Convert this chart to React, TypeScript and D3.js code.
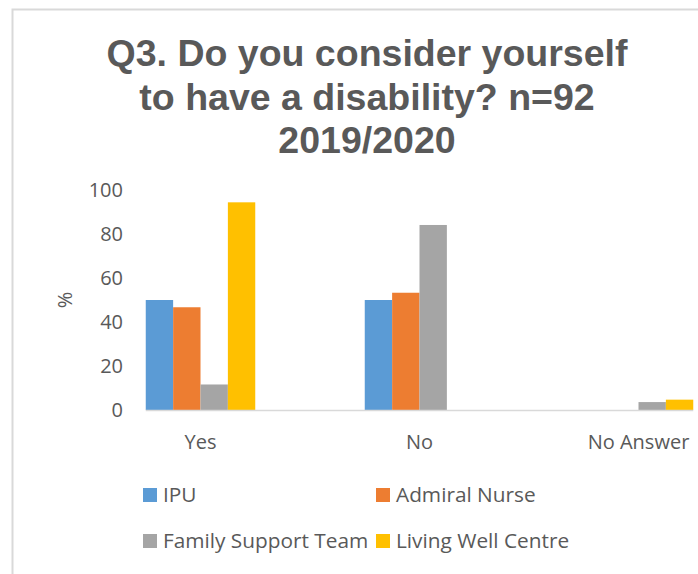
import React from "react";
import * as d3 from "d3";

const categories = ["Yes", "No", "No Answer"];
const seriesNames = ["IPU", "Admiral Nurse", "Family Support Team", "Living Well Centre"];
const ipu = [50, 50, 0];
const admiralNurse = [46.7, 53.3, 0];
const familySupport = [11.6, 84.1, 3.6];
const livingWell = [94.4, 0, 4.7];
const seriesColors = ["#5B9BD5", "#ED7D31", "#A5A5A5", "#FFC000"];
const yTicks = [0, 20, 40, 60, 80, 100];
const titleLines = ["Q3. Do you consider yourself", "to have a disability? n=92", "2019/2020"];

const seriesValues = [ipu, admiralNurse, familySupport, livingWell];

const W = 698;
const H = 574;
const bodyFont = "'Open Sans', Lato, sans-serif";

export default function App() {
  const x0 = d3.scaleBand<string>().domain(categories).range([91, 748]).paddingInner(0).paddingOuter(0);
  const x1 = d3
    .scaleBand<string>()
    .domain(seriesNames)
    .range([0, x0.bandwidth()])
    .paddingInner(0)
    .paddingOuter(2);
  const y = d3.scaleLinear().domain([0, 100]).range([410, 190]);

  const axisStart = (x0(categories[0]) ?? 0) + (x1(seriesNames[0]) ?? 0);
  const axisEnd =
    (x0(categories[categories.length - 1]) ?? 0) +
    (x1(seriesNames[seriesNames.length - 1]) ?? 0) +
    x1.bandwidth();

  const legendPos = [
    { x: 143, y: 495 },
    { x: 376, y: 495 },
    { x: 143, y: 541 },
    { x: 376, y: 541 },
  ];

  return (
    <svg
      width={W}
      height={H}
      style={{ position: "absolute", left: 0, top: 0, background: "#fff" }}
    >
      <rect x={12.5} y={9.5} width={W + 20} height={H + 20} fill="#fff" stroke="#D9D9D9" strokeWidth={2} />
      {titleLines.map((t, i) => (
        <text
          key={i}
          x={367}
          y={66 + i * 43.5}
          textAnchor="middle"
          fontFamily="'Liberation Sans', Arial, sans-serif"
          fontWeight="bold"
          fontSize={37.5}
          fill="#595959"
        >
          {t}
        </text>
      ))}
      {yTicks.map((t) => (
        <text
          key={t}
          x={123}
          y={y(t)}
          dy="0.35em"
          textAnchor="end"
          fontFamily={bodyFont}
          fontSize={20}
          fill="#595959"
        >
          {t}
        </text>
      ))}
      <text
        transform={`translate(72,300) rotate(-90)`}
        textAnchor="middle"
        fontFamily={bodyFont}
        fontSize={20}
        fill="#595959"
      >
        %
      </text>
      {categories.map((c, ci) =>
        seriesNames.map((s, si) => {
          const v = seriesValues[si][ci];
          if (!v) return null;
          return (
            <rect
              key={c + s}
              x={(x0(c) ?? 0) + (x1(s) ?? 0)}
              y={y(v)}
              width={x1.bandwidth()}
              height={y(0) - y(v)}
              fill={seriesColors[si]}
            />
          );
        })
      )}
      <line x1={axisStart} x2={axisEnd} y1={410.5} y2={410.5} stroke="#D9D9D9" strokeWidth={1.5} />
      {categories.map((c) => (
        <text
          key={c}
          x={(x0(c) ?? 0) + x0.bandwidth() / 2}
          y={442}
          dy="0.35em"
          textAnchor="middle"
          fontFamily={bodyFont}
          fontSize={20}
          fill="#595959"
        >
          {c}
        </text>
      ))}
      {seriesNames.map((s, i) => (
        <g key={s} transform={`translate(${legendPos[i].x},${legendPos[i].y})`}>
          <rect x={0} y={-7} width={14} height={14} fill={seriesColors[i]} />
          <text x={20} y={0} dy="0.35em" fontFamily={bodyFont} fontSize={20.8} fill="#595959">
            {s}
          </text>
        </g>
      ))}
    </svg>
  );
}
